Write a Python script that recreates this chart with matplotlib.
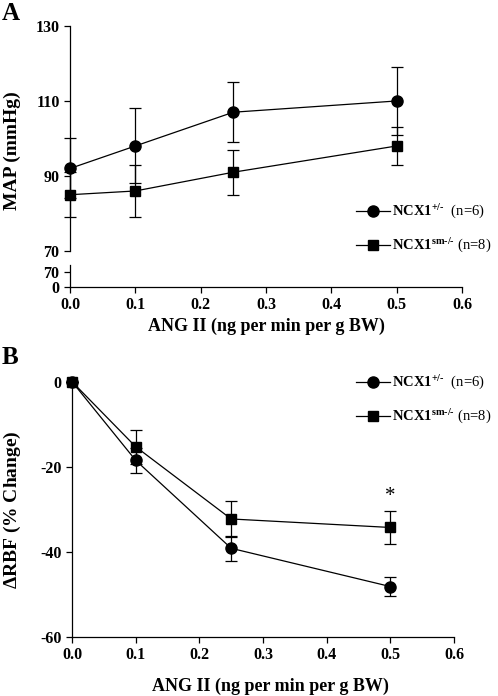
import numpy as np
import matplotlib
matplotlib.use('Agg')
import matplotlib.pyplot as plt

plt.rcParams['font.family'] = 'Liberation Serif'
plt.rcParams['font.weight'] = 'bold'
plt.rcParams['axes.unicode_minus'] = False
plt.rcParams['mathtext.fontset'] = 'custom'
plt.rcParams['mathtext.rm'] = 'Liberation Serif'
plt.rcParams['mathtext.bf'] = 'Liberation Serif:bold'

# data
dose = [0.0, 0.1, 0.25, 0.5]

map_het = [92, 98, 107, 110]
map_het_err = [8, 10, 8, 9]
map_sm = [85, 86, 91, 98]
map_sm_err = [6, 7, 6, 5]

rbf_het = [0, -18.5, -39.2, -48.2]
rbf_het_err = [0, 3.0, 3.0, 2.2]
rbf_sm = [0, -15.3, -32.3, -34.3]
rbf_sm_err = [0, 4.0, 4.3, 3.9]

hy = '\u2010'
label_het = '$\\mathbf{NCX1^{+/' + hy + '}}$  (n=6)'
label_sm = '$\\mathbf{NCX1^{sm' + hy + '/' + hy + '}}$ (n=8)'
xlab = 'ANG II (ng per min per g BW)'
xticks = [0.0, 0.1, 0.2, 0.3, 0.4, 0.5, 0.6]

lw = 0.9
style = dict(color='black', lw=lw, capsize=4, elinewidth=lw, capthick=lw, clip_on=False)


def tidy(ax):
    for s in ['top', 'right']:
        ax.spines[s].set_visible(False)
    for s in ['left', 'bottom']:
        ax.spines[s].set_linewidth(lw)
    ax.tick_params(direction='out', length=4, width=lw, labelsize=11.5)
    for t in ax.get_xticklabels() + ax.get_yticklabels():
        t.set_fontweight('bold')


def add_legend(ax, ycen):
    h = [plt.Line2D([], [], color='black', lw=lw, marker='o', ms=8),
         plt.Line2D([], [], color='black', lw=lw, marker='s', ms=7.5)]
    ax.legend(h, [label_het, label_sm], frameon=False, loc='center left',
              bbox_to_anchor=(356 / 498, 1 - ycen / 696), bbox_transform=fig.transFigure,
              prop={'weight': 'normal', 'size': 10.5}, handlelength=2.3, handletextpad=0.2,
              labelspacing=1.05, borderpad=0, borderaxespad=0)


fig = plt.figure(figsize=(4.98, 6.96), dpi=100)

# panel A, upper part of the broken axis
axA = fig.add_axes([0.1406, 0.6394, 0.787, 0.3233])
axA.errorbar(dose, map_het, yerr=map_het_err, marker='o', ms=8, **style)
axA.errorbar(dose, map_sm, yerr=map_sm_err, marker='s', ms=7.5, **style)
axA.set_xlim(0, 0.6)
axA.set_ylim(70, 130)
axA.set_yticks([70, 90, 110, 130])
axA.set_xticks([])
tidy(axA)
axA.spines['bottom'].set_visible(False)
add_legend(axA, 229)

# panel A, lower part of the broken axis
axA0 = fig.add_axes([0.1406, 0.5876, 0.787, 0.0316])
axA0.set_xlim(0, 0.6)
axA0.set_ylim(0, 103)
axA0.set_yticks([0, 70])
axA0.set_xticks(xticks)
axA0.set_xticklabels([f'{v:.1f}' for v in xticks])
tidy(axA0)

fig.text(266 / 498, 1 - 326 / 696, xlab, ha='center', va='center', fontsize=13)
fig.text(12 / 498, 1 - 151 / 696, 'MAP (mmHg)', ha='center', va='center', rotation=90, fontsize=14)
fig.text(2 / 498, 1 - 13 / 696, 'A', ha='left', va='center', fontsize=18)

# panel B
axB = fig.add_axes([0.1446, 0.0852, 0.767, 0.3664])
axB.errorbar(dose, rbf_het, yerr=rbf_het_err, marker='o', ms=8, **style)
axB.errorbar(dose, rbf_sm, yerr=rbf_sm_err, marker='s', ms=7.5, **style)
axB.set_xlim(0, 0.6)
axB.set_ylim(-60, 0)
axB.set_yticks([-60, -40, -20, 0])
axB.set_xticks(xticks)
axB.set_xticklabels([f'{v:.1f}' for v in xticks])
tidy(axB)
axB.text(dose[-1], rbf_sm[-1] + rbf_sm_err[-1] + 1.2, '*', ha='center', va='bottom',
         fontsize=15, fontweight='normal')
add_legend(axB, 400)

fig.text(270 / 498, 1 - 686 / 696, xlab, ha='center', va='center', fontsize=13)
fig.text(12 / 498, 1 - 510 / 696, r'$\Delta$RBF (% Change)', ha='center', va='center',
         rotation=90, fontsize=14)
fig.text(2 / 498, 1 - 357 / 696, 'B', ha='left', va='center', fontsize=18)

fig.savefig('out.png', dpi=100)
